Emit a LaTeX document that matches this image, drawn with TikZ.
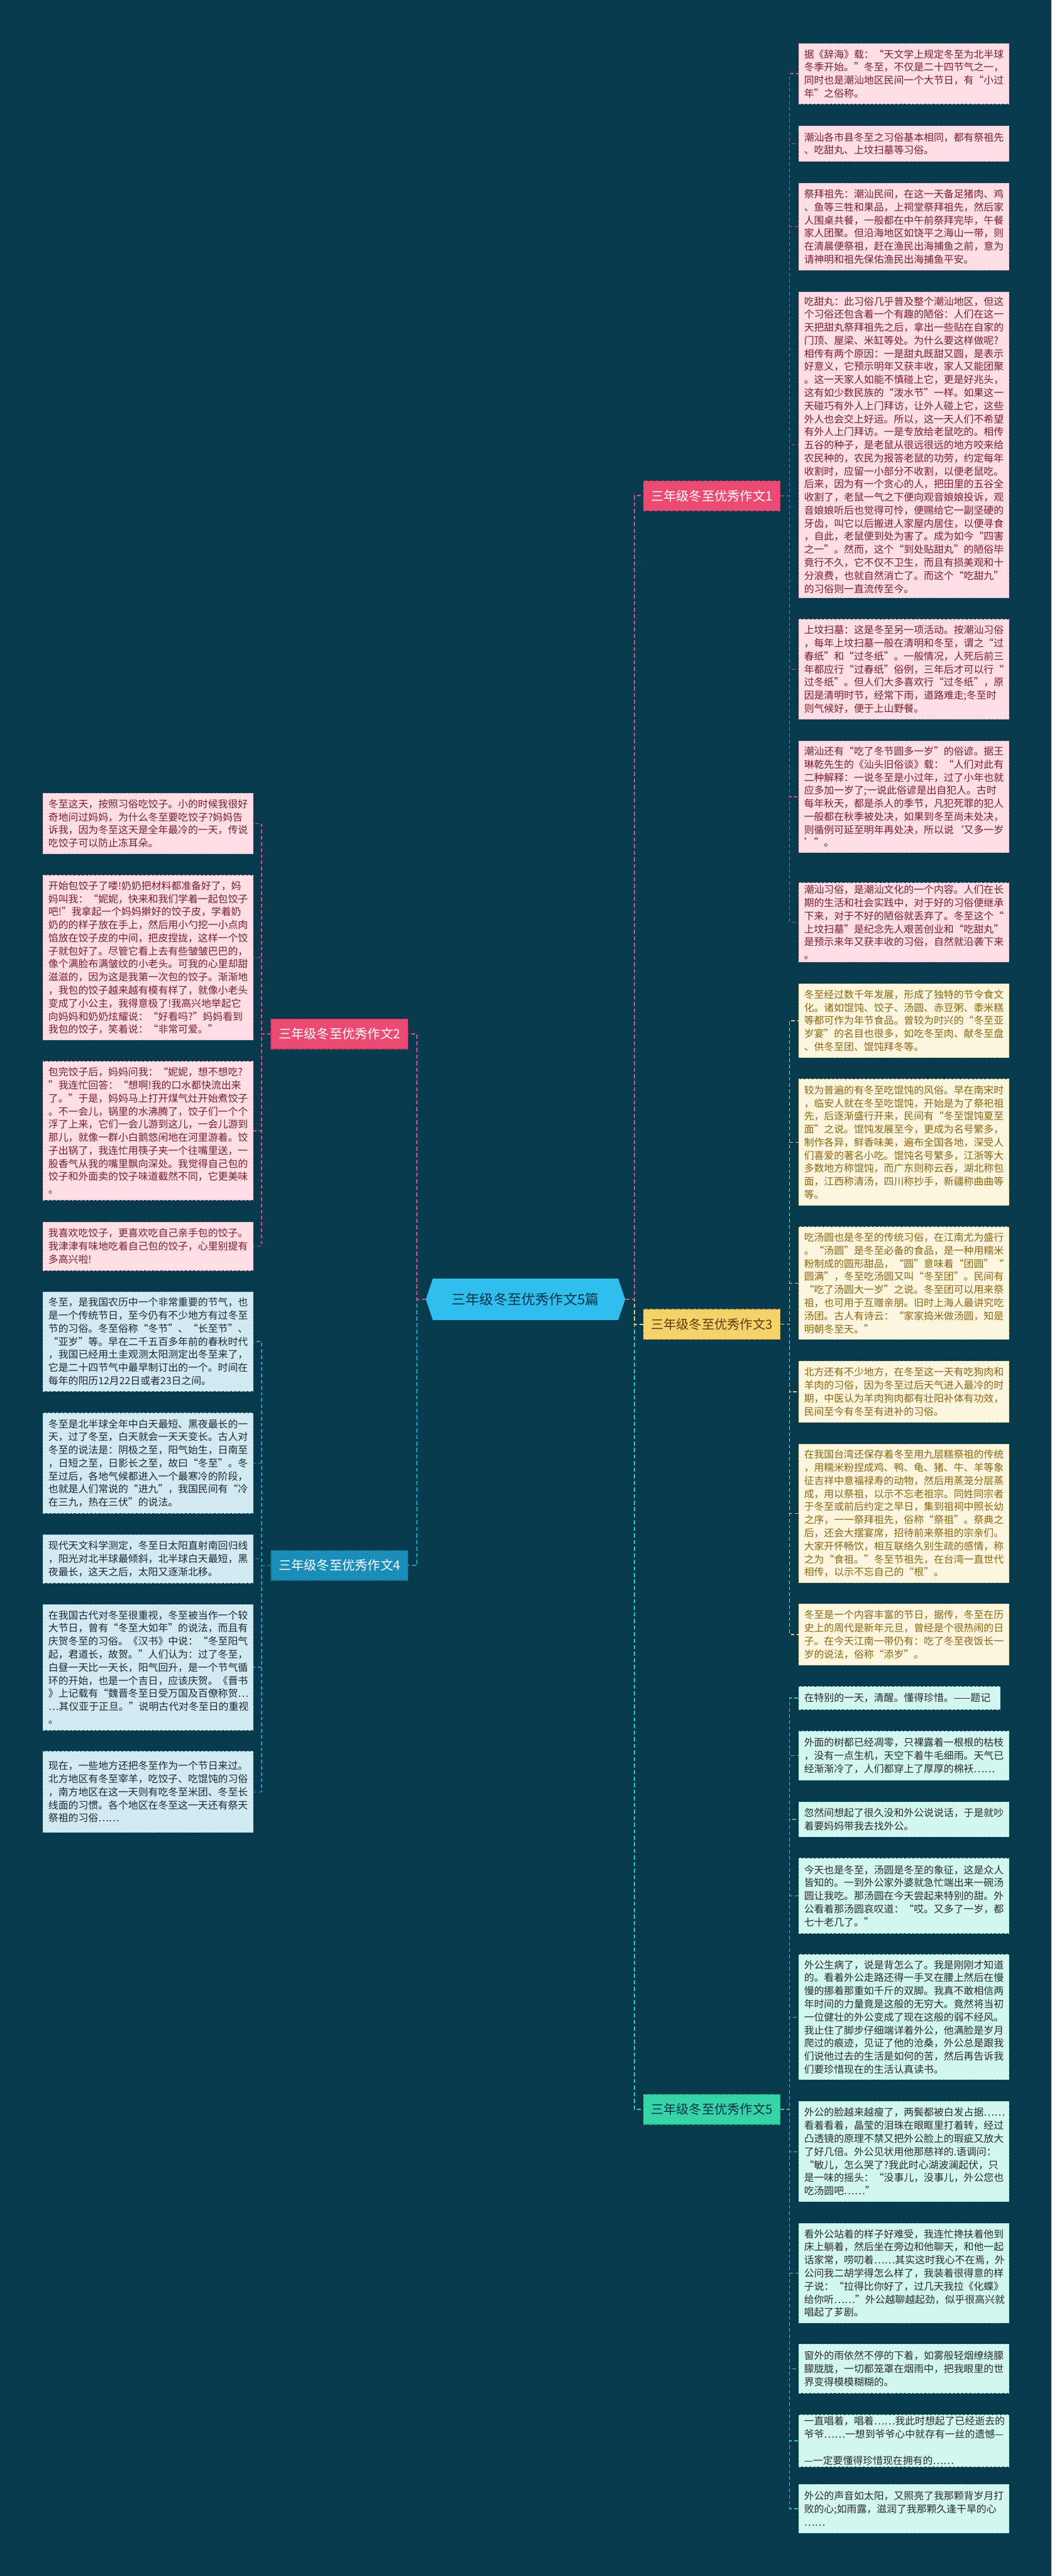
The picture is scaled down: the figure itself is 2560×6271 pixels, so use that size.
\documentclass[tikz,border=0pt]{standalone}
\usepackage{fontspec}
\newfontfamily\cjk{Noto Sans CJK SC}
\usetikzlibrary{backgrounds}
\definecolor{bg}{HTML}{083A4E}
\definecolor{ctrfill}{HTML}{30BEEF}
\definecolor{ctrtext}{HTML}{0B3346}
\definecolor{pinkB}{HTML}{EB4A73}
\definecolor{pinkBe}{HTML}{C93A62}
\definecolor{pinkline}{HTML}{D9507D}
\definecolor{pinkL}{HTML}{FCDEE4}
\definecolor{pinkLe}{HTML}{E8AFBE}
\definecolor{pinkT}{HTML}{7A1E2E}
\definecolor{yelB}{HTML}{F6D36A}
\definecolor{yelBe}{HTML}{D9AE3E}
\definecolor{yelline}{HTML}{E8C56A}
\definecolor{yelL}{HTML}{FDF6DF}
\definecolor{yelLe}{HTML}{E6D5A3}
\definecolor{yelT}{HTML}{8A6512}
\definecolor{yelBT}{HTML}{5A3C08}
\definecolor{bluB}{HTML}{1A8EB9}
\definecolor{bluBe}{HTML}{137093}
\definecolor{bluline}{HTML}{1E9BCB}
\definecolor{bluL}{HTML}{D2EAF1}
\definecolor{bluLe}{HTML}{9FCADA}
\definecolor{bluT}{HTML}{1C2733}
\definecolor{grnB}{HTML}{35D3A6}
\definecolor{grnBe}{HTML}{22AE86}
\definecolor{grnline}{HTML}{2ECFA0}
\definecolor{grnL}{HTML}{D2F6F0}
\definecolor{grnLe}{HTML}{9EDDD2}
\definecolor{grnT}{HTML}{2A2A2A}
\definecolor{grnBT}{HTML}{0B3346}
\newcommand\leaffont{\cjk\fontsize{24.3}{31.8}\selectfont}
\newcommand\branchfont{\cjk\fontsize{31}{36}\selectfont}
\newcommand\ctrfont{\cjk\fontsize{34}{40}\selectfont}
\tikzset{
  leaf/.style={draw, dash pattern=on 6pt off 4pt, line width=1.5pt, anchor=north west,
    text width=486pt, inner xsep=13pt, inner ysep=4pt, align=left, font=\leaffont},
  pinkleaf/.style={leaf, fill=pinkL, draw=pinkLe, text=pinkT},
  yelleaf/.style={leaf, fill=yelL, draw=yelLe, text=yelT},
  grnleaf/.style={leaf, fill=grnL, draw=grnLe, text=grnT},
  bluleaf/.style={leaf, fill=bluL, draw=bluLe, text=bluT},
  branch/.style={draw, dash pattern=on 8pt off 5pt, line width=2pt, minimum width=333pt,
    minimum height=73pt, inner sep=0pt, font=\branchfont},
  conn/.style={line width=3pt, dash pattern=on 10pt off 6pt},
  sub/.style={line width=2pt, dash pattern=on 9pt off 6pt},
}
\begin{document}
\begin{tikzpicture}[x=1pt,y=-1pt]
\useasboundingbox (0,0) rectangle (2560,6271);

% ---------- center ----------
\node[minimum width=485pt, minimum height=100pt, inner sep=0pt, font=\ctrfont, text=ctrtext] (ctr) at (1279.5,3163) {三年级冬至优秀作文5篇};

% ---------- branches ----------
\node[branch, fill=pinkB, draw=pinkBe, text=white] (b1) at (1733,1207) {三年级冬至优秀作文1};
\node[branch, fill=pinkB, draw=pinkBe, text=white] (b2) at (826.5,2517) {三年级冬至优秀作文2};
\node[branch, fill=yelB, draw=yelBe, text=yelBT] (b3) at (1733,3224) {三年级冬至优秀作文3};
\node[branch, fill=bluB, draw=bluBe, text=white] (b4) at (826.5,3811) {三年级冬至优秀作文4};
\node[branch, fill=grnB, draw=grnBe, text=grnBT] (b5) at (1733,5135) {三年级冬至优秀作文5};

% ---------- branch 1 (pink, right) ----------
\node[pinkleaf, minimum height=147pt] (a1) at (1944,105) {据《辞海》载：“天文学上规定冬至为北半球\\
冬季开始。”冬至，不仅是二十四节气之一，\\
同时也是潮汕地区民间一个大节日，有“小过\\
年”之俗称。};
\node[pinkleaf, minimum height=86pt] (a2) at (1944,306) {潮汕各市县冬至之习俗基本相同，都有祭祖先\\
、吃甜丸、上坟扫墓等习俗。};
\node[pinkleaf, minimum height=212pt] (a3) at (1944,445) {祭拜祖先：潮汕民间，在这一天备足猪肉、鸡\\
、鱼等三牲和果品，上祠堂祭拜祖先，然后家\\
人围桌共餐，一般都在中午前祭拜完毕，午餐\\
家人团聚。但沿海地区如饶平之海山一带，则\\
在清晨便祭祖，赶在渔民出海捕鱼之前，意为\\
请神明和祖先保佑渔民出海捕鱼平安。};
\node[pinkleaf, minimum height=745pt] (a4) at (1944,710) {吃甜丸：此习俗几乎普及整个潮汕地区，但这\\
个习俗还包含着一个有趣的陋俗：人们在这一\\
天把甜丸祭拜祖先之后，拿出一些贴在自家的\\
门顶、屋梁、米缸等处。为什么要这样做呢?\\
相传有两个原因：一是甜丸既甜又圆，是表示\\
好意义，它预示明年又获丰收，家人又能团聚\\
。这一天家人如能不慎碰上它，更是好兆头，\\
这有如少数民族的“泼水节”一样。如果这一\\
天碰巧有外人上门拜访，让外人碰上它，这些\\
外人也会交上好运。所以，这一天人们不希望\\
有外人上门拜访。一是专放给老鼠吃的。相传\\
五谷的种子，是老鼠从很远很远的地方咬来给\\
农民种的，农民为报答老鼠的功劳，约定每年\\
收割时，应留一小部分不收割，以便老鼠吃。\\
后来，因为有一个贪心的人，把田里的五谷全\\
收割了，老鼠一气之下便向观音娘娘投诉，观\\
音娘娘听后也觉得可怜，便赐给它一副坚硬的\\
牙齿，叫它以后搬进人家屋内居住，以便寻食\\
，自此，老鼠便到处为害了。成为如今“四害\\
之一”。然而，这个“到处贴甜丸”的陋俗毕\\
竟行不久，它不仅不卫生，而且有损美观和十\\
分浪费，也就自然消亡了。而这个“吃甜九”\\
的习俗则一直流传至今。};
\node[pinkleaf, minimum height=243pt] (a5) at (1944,1507) {上坟扫墓：这是冬至另一项活动。按潮汕习俗\\
，每年上坟扫墓一般在清明和冬至，谓之“过\\
春纸”和“过冬纸”。一般情况，人死后前三\\
年都应行“过春纸”俗例，三年后才可以行“\\
过冬纸”。但人们大多喜欢行“过冬纸”，原\\
因是清明时节，经常下雨，道路难走;冬至时\\
则气候好，便于上山野餐。};
\node[pinkleaf, minimum height=272pt] (a6) at (1944,1803) {潮汕还有“吃了冬节圆多一岁”的俗谚。据王\\
琳乾先生的《汕头旧俗谈》载：“人们对此有\\
二种解释：一说冬至是小过年，过了小年也就\\
应多加一岁了;一说此俗谚是出自犯人。古时\\
每年秋天，都是杀人的季节，凡犯死罪的犯人\\
一般都在秋季被处决，如果到冬至尚未处决，\\
则循例可延至明年再处决，所以说‘又多一岁\\
’”。};
\node[pinkleaf, minimum height=193pt] (a7) at (1944,2148) {潮汕习俗，是潮汕文化的一个内容。人们在长\\
期的生活和社会实践中，对于好的习俗便继承\\
下来，对于不好的陋俗就丢弃了。冬至这个“\\
上坟扫墓”是纪念先人艰苦创业和“吃甜丸”\\
是预示来年又获丰收的习俗，自然就沿袭下来\\
。};

% ---------- branch 3 (yellow, right) ----------
\node[yelleaf, minimum height=180pt] (a8) at (1944,2394) {冬至经过数千年发展，形成了独特的节令食文\\
化。诸如馄饨、饺子、汤圆、赤豆粥、黍米糕\\
等都可作为年节食品。曾较为时兴的“冬至亚\\
岁宴”的名目也很多，如吃冬至肉、献冬至盘\\
、供冬至团、馄饨拜冬等。};
\node[yelleaf, minimum height=308pt] (a9) at (1944,2626) {较为普遍的有冬至吃馄饨的风俗。早在南宋时\\
，临安人就在冬至吃馄饨，开始是为了祭祀祖\\
先，后逐渐盛行开来，民间有“冬至馄饨夏至\\
面”之说。馄饨发展至今，更成为名号繁多，\\
制作各异，鲜香味美，遍布全国各地，深受人\\
们喜爱的著名小吃。馄饨名号繁多，江浙等大\\
多数地方称馄饨，而广东则称云吞，湖北称包\\
面，江西称清汤，四川称抄手，新疆称曲曲等\\
等。};
\node[yelleaf, minimum height=274pt] (a10) at (1944,2986) {吃汤圆也是冬至的传统习俗，在江南尤为盛行\\
。“汤圆”是冬至必备的食品，是一种用糯米\\
粉制成的圆形甜品，“圆”意味着“团圆”“\\
圆满”，冬至吃汤圆又叫“冬至团”。民间有\\
“吃了汤圆大一岁”之说。冬至团可以用来祭\\
祖，也可用于互赠亲朋。旧时上海人最讲究吃\\
汤团。古人有诗云：“家家捣米做汤圆，知是\\
明朝冬至天。”};
\node[yelleaf, minimum height=149pt] (a11) at (1944,3313) {北方还有不少地方，在冬至这一天有吃狗肉和\\
羊肉的习俗，因为冬至过后天气进入最冷的时\\
期，中医认为羊肉狗肉都有壮阳补体有功效，\\
民间至今有冬至有进补的习俗。};
\node[yelleaf, minimum height=337pt] (a12) at (1944,3515) {在我国台湾还保存着冬至用九层糕祭祖的传统\\
，用糯米粉捏成鸡、鸭、龟、猪、牛、羊等象\\
征吉祥中意福禄寿的动物，然后用蒸笼分层蒸\\
成，用以祭祖，以示不忘老祖宗。同姓同宗者\\
于冬至或前后约定之早日，集到祖祠中照长幼\\
之序，一一祭拜祖先，俗称“祭祖”。祭典之\\
后，还会大摆宴席，招待前来祭祖的宗亲们。\\
大家开怀畅饮，相互联络久别生疏的感情，称\\
之为“食祖。”冬至节祖先，在台湾一直世代\\
相传，以示不忘自己的“根”。};
\node[yelleaf, minimum height=149pt] (a13) at (1944,3904) {冬至是一个内容丰富的节日，据传，冬至在历\\
史上的周代是新年元旦，曾经是个很热闹的日\\
子。在今天江南一带仍有：吃了冬至夜饭长一\\
岁的说法，俗称“添岁”。};

% ---------- branch 5 (green, right) ----------
\node[grnleaf, text width=465pt, minimum height=56pt] (a14) at (1944,4105) {在特别的一天，清醒。懂得珍惜。——题记};
\node[grnleaf, minimum height=119pt] (a15) at (1944,4214) {外面的树都已经凋零，只裸露着一根根的枯枝\\
，没有一点生机，天空下着牛毛细雨。天气已\\
经渐渐冷了，人们都穿上了厚厚的棉袄……};
\node[grnleaf, minimum height=85pt] (a16) at (1944,4386) {忽然间想起了很久没和外公说说话，于是就吵\\
着要妈妈带我去找外公。};
\node[grnleaf, minimum height=183pt] (a17) at (1944,4523) {今天也是冬至，汤圆是冬至的象征，这是众人\\
皆知的。一到外公家外婆就急忙端出来一碗汤\\
圆让我吃。那汤圆在今天尝起来特别的甜。外\\
公看着那汤圆哀叹道：“哎。又多了一岁，都\\
七十老几了。”};
\node[grnleaf, minimum height=305pt] (a18) at (1944,4757) {外公生病了，说是背怎么了。我是刚刚才知道\\
的。看着外公走路还得一手叉在腰上然后在慢\\
慢的挪着那重如千斤的双脚。我真不敢相信两\\
年时间的力量竟是这般的无穷大。竟然将当初\\
一位健壮的外公变成了现在这般的弱不经风。\\
我止住了脚步仔细端详着外公，他满脸是岁月\\
爬过的痕迹，见证了他的沧桑，外公总是跟我\\
们说他过去的生活是如何的苦，然后再告诉我\\
们要珍惜现在的生活认真读书。};
\node[grnleaf, minimum height=244pt] (a19) at (1944,5115) {外公的脸越来越瘦了，两鬓都被白发占据……\\
看着看着，晶莹的泪珠在眼眶里打着转，经过\\
凸透镜的原理不禁又把外公脸上的瑕疵又放大\\
了好几倍。外公见状用他那慈祥的.语调问：\\
“敏儿，怎么哭了?我此时心湖波澜起伏，只\\
是一味的摇头：“没事儿，没事儿，外公您也\\
吃汤圆吧……”};
\node[grnleaf, minimum height=242pt] (a20) at (1944,5412) {看外公站着的样子好难受，我连忙搀扶着他到\\
床上躺着，然后坐在旁边和他聊天，和他一起\\
话家常，唠叨着……其实这时我心不在焉，外\\
公问我二胡学得怎么样了，我装着很得意的样\\
子说：“拉得比你好了，过几天我拉《化蝶》\\
给你听……”外公越聊越起劲，似乎很高兴就\\
唱起了芗剧。};
\node[grnleaf, minimum height=119pt] (a21) at (1944,5706) {窗外的雨依然不停的下着，如雾般轻烟缭绕朦\\
朦胧胧，一切都笼罩在烟雨中，把我眼里的世\\
界变得模模糊糊的。};
\node[grnleaf, minimum height=118pt] (a22) at (1944,5878) {一直唱着，唱着……我此时想起了已经逝去的\\
爷爷……一想到爷爷心中就存有一丝的遗憾—\\
—一定要懂得珍惜现在拥有的……};
\node[grnleaf, minimum height=119pt] (a23) at (1944,6047) {外公的声音如太阳，又照亮了我那颗背岁月打\\
败的心;如雨露，滋润了我那颗久逢干旱的心\\
……};

% ---------- branch 2 (pink, left) ----------
\node[pinkleaf, minimum height=148pt] (l1) at (104,1930) {冬至这天，按照习俗吃饺子。小的时候我很好\\
奇地问过妈妈，为什么冬至要吃饺子?妈妈告\\
诉我，因为冬至这天是全年最冷的一天，传说\\
吃饺子可以防止冻耳朵。};
\node[pinkleaf, minimum height=401pt] (l2) at (104,2130) {开始包饺子了喽!奶奶把材料都准备好了，妈\\
妈叫我：“妮妮，快来和我们学着一起包饺子\\
吧!”我拿起一个妈妈擀好的饺子皮，学着奶\\
奶的的样子放在手上，然后用小勺挖一小点肉\\
馅放在饺子皮的中间，把皮捏拢，这样一个饺\\
子就包好了。尽管它看上去有些皱皱巴巴的，\\
像个满脸布满皱纹的小老头。可我的心里却甜\\
滋滋的，因为这是我第一次包的饺子。渐渐地\\
，我包的饺子越来越有模有样了，就像小老头\\
变成了小公主，我得意极了!我高兴地举起它\\
向妈妈和奶奶炫耀说：“好看吗?”妈妈看到\\
我包的饺子，笑着说：“非常可爱。”};
\node[pinkleaf, minimum height=338pt] (l3) at (104,2583) {包完饺子后，妈妈问我：“妮妮，想不想吃?\\
”我连忙回答：“想啊!我的口水都快流出来\\
了。”于是，妈妈马上打开煤气灶开始煮饺子\\
。不一会儿，锅里的水沸腾了，饺子们一个个\\
浮了上来，它们一会儿游到这儿，一会儿游到\\
那儿，就像一群小白鹅悠闲地在河里游着。饺\\
子出锅了，我连忙用筷子夹一个往嘴里送，一\\
股香气从我的嘴里飘向深处。我觉得自己包的\\
饺子和外面卖的饺子味道截然不同，它更美味\\
。};
\node[pinkleaf, minimum height=118pt] (l4) at (104,2974) {我喜欢吃饺子，更喜欢吃自己亲手包的饺子。\\
我津津有味地吃着自己包的饺子，心里别提有\\
多高兴啦!};

% ---------- branch 4 (blue, left) ----------
\node[bluleaf, minimum height=242pt] (l5) at (104,3144) {冬至，是我国农历中一个非常重要的节气，也\\
是一个传统节日，至今仍有不少地方有过冬至\\
节的习俗。冬至俗称“冬节”、“长至节”、\\
“亚岁”等。早在二千五百多年前的春秋时代\\
，我国已经用土圭观测太阳测定出冬至来了，\\
它是二十四节气中最早制订出的一个。时间在\\
每年的阳历12月22日或者23日之间。};
\node[bluleaf, minimum height=244pt] (l6) at (104,3439) {冬至是北半球全年中白天最短、黑夜最长的一\\
天，过了冬至，白天就会一天天变长。古人对\\
冬至的说法是：阴极之至，阳气始生，日南至\\
，日短之至，日影长之至，故曰“冬至”。冬\\
至过后，各地气候都进入一个最寒冷的阶段，\\
也就是人们常说的“进九”，我国民间有“冷\\
在三九，热在三伏”的说法。};
\node[bluleaf, minimum height=118pt] (l7) at (104,3735) {现代天文科学测定，冬至日太阳直射南回归线\\
，阳光对北半球最倾斜，北半球白天最短，黑\\
夜最长，这天之后，太阳又逐渐北移。};
\node[bluleaf, minimum height=306pt] (l8) at (104,3905) {在我国古代对冬至很重视，冬至被当作一个较\\
大节日，曾有“冬至大如年”的说法，而且有\\
庆贺冬至的习俗。《汉书》中说：“冬至阳气\\
起，君道长，故贺。”人们认为：过了冬至，\\
白昼一天比一天长，阳气回升，是一个节气循\\
环的开始，也是一个吉日，应该庆贺。《晋书\\
》上记载有“魏晋冬至日受万国及百僚称贺…\\
…其仪亚于正旦。”说明古代对冬至日的重视\\
。};
\node[bluleaf, minimum height=197pt] (l9) at (104,4263) {现在，一些地方还把冬至作为一个节日来过。\\
北方地区有冬至宰羊，吃饺子、吃馄饨的习俗\\
，南方地区在这一天则有吃冬至米团、冬至长\\
线面的习惯。各个地区在冬至这一天还有祭天\\
祭祖的习俗……};

% ---------- background + center shape ----------
\begin{scope}[on background layer]
\fill[bg] (0,0) rectangle (2560,6271);
\fill[ctrfill] (ctr.west) -- ([xshift=17pt]ctr.north west) -- ([xshift=-17pt]ctr.north east)
  -- (ctr.east) -- ([xshift=-17pt]ctr.south east) -- ([xshift=17pt]ctr.south west) -- cycle;
\end{scope}

% ---------- main connectors ----------
\draw[conn, grnline] (ctr.east) -- ++(22,0) |- (b5.west);
\draw[conn, yelline] (ctr.east) -- ++(22,0) |- (b3.west);
\draw[conn, pinkline] (ctr.east) -- ++(22,0) |- (b1.west);
\draw[conn, bluline] (ctr.west) -- ++(-22,0) |- (b4.east);
\draw[conn, pinkline] (ctr.west) -- ++(-22,0) |- (b2.east);

% ---------- child connectors ----------
\foreach \c in {a1,a2,a3,a4,a5,a6,a7}
  \draw[sub, pinkline] (b1.east) -- ++(22,0) |- (\c.west);
\foreach \c in {a8,a9,a10,a11,a12,a13}
  \draw[sub, yelline] (b3.east) -- ++(22,0) |- (\c.west);
\foreach \c in {a14,a15,a16,a17,a18,a19,a20,a21,a22,a23}
  \draw[sub, grnline] (b5.east) -- ++(22,0) |- (\c.west);
\foreach \c in {l1,l2,l3,l4}
  \draw[sub, pinkline] (b2.west) -- ++(-22,0) |- (\c.east);
\foreach \c in {l5,l6,l7,l8,l9}
  \draw[sub, bluline] (b4.west) -- ++(-22,0) |- (\c.east);
\end{tikzpicture}
\end{document}
